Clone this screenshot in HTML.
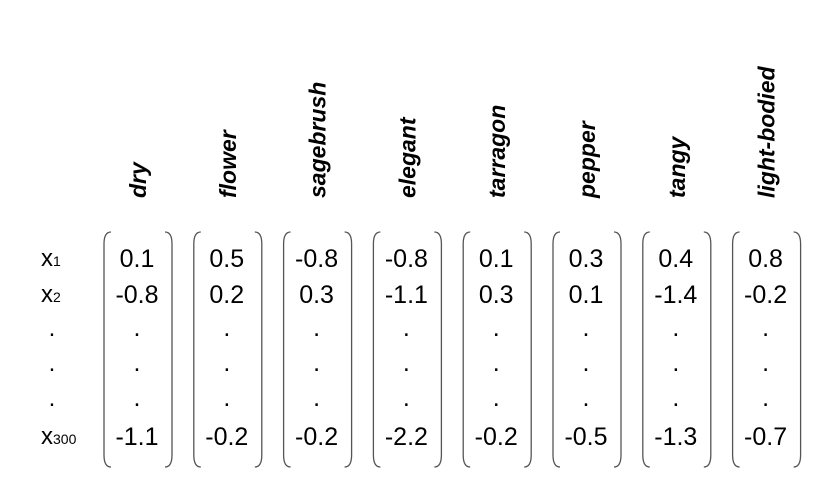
<!DOCTYPE html>
<html><head><meta charset="utf-8"><style>
body{margin:0;background:#fff}
svg text{font-family:"Liberation Sans",sans-serif;fill:#000}
</style></head><body>
<svg width="836" height="491" id="s"></svg>
<script>
const words=["dry","flower","sagebrush","elegant","tarragon","pepper","tangy","light-bodied"];
const row1=["0.1","0.5","-0.8","-0.8","0.1","0.3","0.4","0.8"];
const row2=["-0.8","0.2","0.3","-1.1","0.3","0.1","-1.4","-0.2"];
const rowLast=["-1.1","-0.2","-0.2","-2.2","-0.2","-0.5","-1.3","-0.7"];
const rowLabels=[["x","1"],["x","2"],["·",""],["·",""],["·",""],["x","300"]];
const NS="http://www.w3.org/2000/svg";
const s=document.getElementById('s');
const cx=i=>137+i*89.8;
const rowY=[266,302,340,375,410,444];
function t(x,y,str,size,attrs){const e=document.createElementNS(NS,'text');e.setAttribute('x',x);e.setAttribute('y',y);e.setAttribute('font-size',size);for(const k in attrs)e.setAttribute(k,attrs[k]);e.textContent=str;s.appendChild(e);return e;}
rowLabels.forEach((r,j)=>{
  let e;
  if(r[0]==="·"){e=t(52,rowY[j]-4,".",24,{'text-anchor':'middle'});}
  else{e=t(41,rowY[j],r[0],24,{});const sp=document.createElementNS(NS,'tspan');sp.setAttribute('font-size',14);sp.textContent=r[1];e.appendChild(sp);}
  
  
});
words.forEach((w,i)=>{
  const x=cx(i);
  const l=t(x+9,198,w,23,{'font-weight':'bold','font-style':'italic','transform':`rotate(-90 ${x+9} 198)`});
  
  
  const vals=[row1[i],row2[i],".",".",".",rowLast[i]];
  vals.forEach((v,j)=>{
    const e=t(x,v==="."?rowY[j]-4:rowY[j]+1,v,25,{'text-anchor':'middle'});
    
    
  });
  const L=x-33,R=x+35,T=232,B=467;
  const p=document.createElementNS(NS,'path');
  p.setAttribute('d',`M${L+7},${T} Q${L},${T} ${L},${T+12} L${L},${B-12} Q${L},${B} ${L+7},${B} M${R-7},${T} Q${R},${T} ${R},${T+12} L${R},${B-12} Q${R},${B} ${R-7},${B}`);
  p.setAttribute('fill','none');p.setAttribute('stroke','#555');p.setAttribute('stroke-width','1.3');
  
  
  s.appendChild(p);
});
</script>
</body></html>
